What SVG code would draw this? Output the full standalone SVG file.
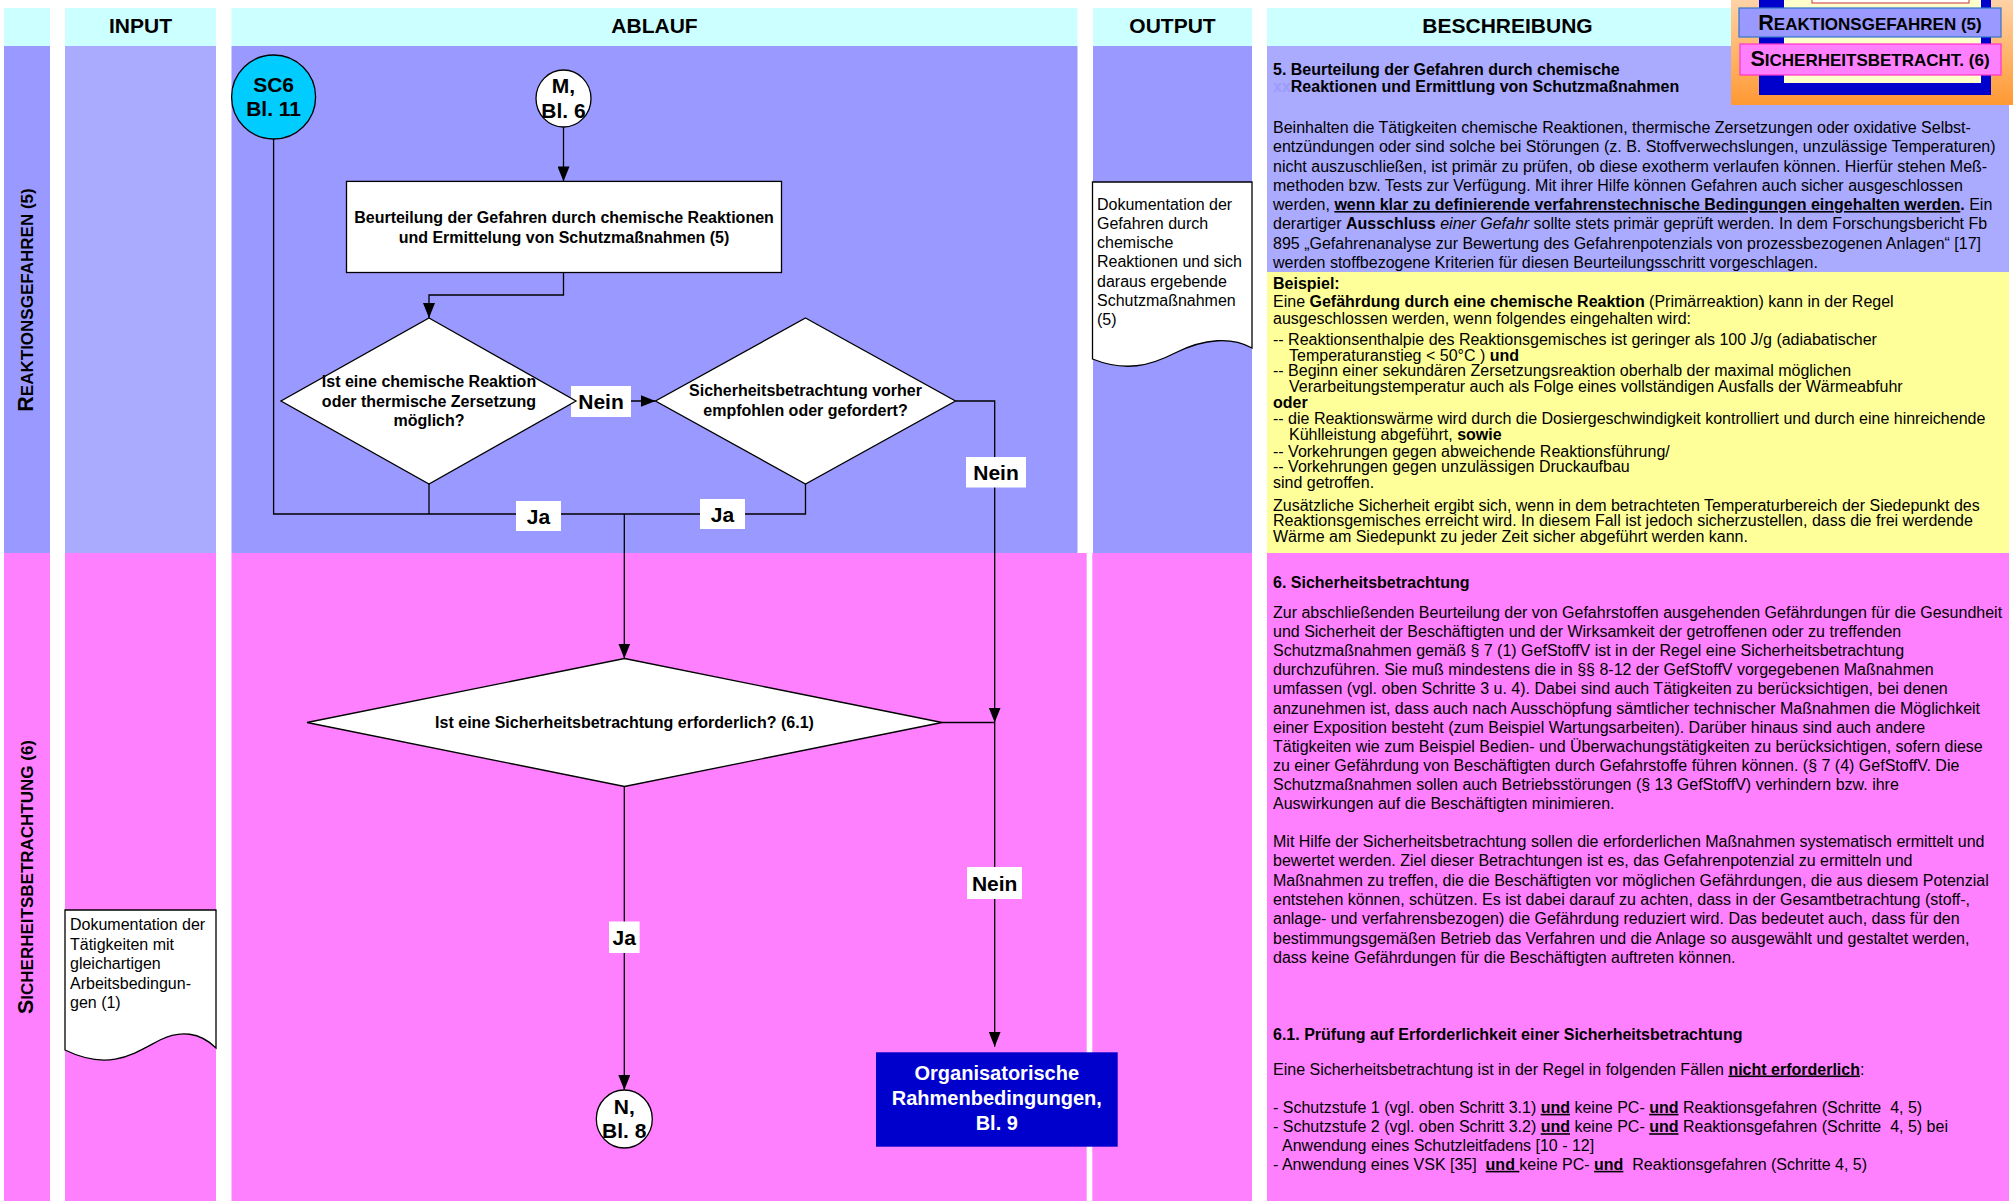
<svg xmlns="http://www.w3.org/2000/svg" width="2013" height="1201" viewBox="0 0 2013 1201">
<defs>
<style>
text{font-family:"Liberation Sans",Arial,sans-serif;fill:#000;}
.hd{font-size:21px;font-weight:bold;text-anchor:middle;}
.b16{font-size:16px;font-weight:bold;text-anchor:middle;}
.lbl{font-size:21px;font-weight:bold;text-anchor:middle;}
.con{font-size:21px;font-weight:bold;text-anchor:middle;}
.d{font-size:16px;}
.doc{font-size:16px;}
.b{font-weight:bold;}
.u{text-decoration:underline;}
.i{font-style:italic;}
.ln{fill:none;stroke:#000;stroke-width:1.3;}
.arr{marker-end:url(#ah);}
.shape{fill:#fff;stroke:#000;stroke-width:1.3;}
.lblbox{fill:#fff;}
.cyan{fill:#CCFFFF;}
.p1{fill:#9999FF;}
.p2{fill:#AAAAFF;}
.pk{fill:#FF80FF;}
.sc{font-weight:bold;font-size:17px;}
.scb{font-size:21.5px;}
</style>
<marker id="ah" viewBox="0 0 15 12" markerWidth="15" markerHeight="12" refX="15" refY="6" orient="auto" markerUnits="userSpaceOnUse">
<path d="M0,0 L15,6 L0,12 Z" fill="#000"/>
</marker>
<linearGradient id="og" x1="0" y1="0" x2="0" y2="1">
<stop offset="0" stop-color="#FFD2A6"/>
<stop offset="1" stop-color="#FF9933"/>
</linearGradient>
</defs>
<rect x="0" y="0" width="2013" height="1201" fill="#fff"/>

<g id="background">
<rect class="cyan" x="4" y="8" width="46" height="38"/>
<rect class="cyan" x="65" y="8" width="151" height="38"/>
<rect class="cyan" x="231.5" y="8" width="846" height="38"/>
<rect class="cyan" x="1093" y="8" width="159" height="38"/>
<rect class="cyan" x="1267" y="8" width="742" height="38"/>
<rect class="p1" x="4" y="46" width="46" height="507"/>
<rect class="p2" x="65" y="46" width="151" height="507"/>
<rect class="p1" x="231.5" y="46" width="846" height="507"/>
<rect class="p1" x="1093" y="46" width="159" height="507"/>
<rect class="p2" x="1267" y="46" width="742" height="226"/>
<rect x="1267" y="272" width="742" height="281" fill="#FFFF99"/>
<rect class="pk" x="4" y="553" width="46" height="648"/>
<rect class="pk" x="65" y="553" width="151" height="648"/>
<rect class="pk" x="231.5" y="553" width="855.2" height="648"/>
<rect class="pk" x="1092.3" y="553" width="159.7" height="648"/>
<rect class="pk" x="1267" y="553" width="742" height="648"/>
<text class="hd" x="140.5" y="33">INPUT</text>
<text class="hd" x="654.5" y="33">ABLAUF</text>
<text class="hd" x="1172.5" y="33">OUTPUT</text>
<text class="hd" x="1507.5" y="33">BESCHREIBUNG</text>
</g>

<g id="lane-reaktion">
<text class="sc" transform="translate(33,300) rotate(-90)" text-anchor="middle"><tspan class="scb">R</tspan>EAKTIONSGEFAHREN (5)</text>
</g>
<g id="lane-sicherheit">
<text class="sc" transform="translate(33,877) rotate(-90)" text-anchor="middle"><tspan class="scb">S</tspan>ICHERHEITSBETRACHTUNG (6)</text>
</g>

<g id="inset">
<rect x="1731" y="0" width="282" height="105" fill="url(#og)"/>
<rect x="1759" y="0" width="232" height="95" fill="#0000CC"/>
<rect x="1784" y="0" width="197" height="83" fill="#FFFFCC"/>
<rect x="1812" y="-4" width="157" height="7" fill="#fff" stroke="#CC3333" stroke-width="1"/>
<rect x="1739" y="8" width="262" height="29" fill="#9999FF" stroke="#3377CC" stroke-width="1.2"/>
<rect x="1740" y="44" width="261" height="31" fill="#FF80FF" stroke="#FF33CC" stroke-width="1.2"/>
<text class="sc" x="1870" y="30" text-anchor="middle"><tspan class="scb">R</tspan>EAKTIONSGEFAHREN (5)</text>
<text class="sc" x="1870" y="66" text-anchor="middle"><tspan class="scb">S</tspan>ICHERHEITSBETRACHT. (6)</text>
</g>

<g id="connectors">
<path class="ln arr" d="M563.5,127 V181.4"/>
<path class="ln arr" d="M563.5,272.5 V295 H429 V318"/>
<path class="ln arr" d="M574,401 H655.5"/>
<path class="ln" d="M429,484 V514"/>
<path class="ln" d="M273.6,139 V514 H805.5 V484"/>
<path class="ln arr" d="M624.3,514 V658.5"/>
<path class="ln arr" d="M955.5,401 H994.7 V722.5"/>
<path class="ln" d="M942,722.5 H994.7"/>
<path class="ln arr" d="M994.7,722.5 V1046.7"/>
<path class="ln arr" d="M624.3,786.5 V1090"/>
<rect class="lblbox" x="571" y="386" width="60" height="31"/>
<text class="lbl" x="601" y="409">Nein</text>
<rect class="lblbox" x="516" y="501" width="45" height="30"/>
<text class="lbl" x="538.5" y="523.5">Ja</text>
<rect class="lblbox" x="700" y="499" width="45" height="30"/>
<text class="lbl" x="722.5" y="521.5">Ja</text>
<rect class="lblbox" x="966" y="457" width="60" height="30.5"/>
<text class="lbl" x="996" y="480">Nein</text>
<rect class="lblbox" x="967" y="867" width="55" height="32"/>
<text class="lbl" x="994.7" y="890.5">Nein</text>
<rect class="lblbox" x="609" y="921.5" width="30.6" height="31.5"/>
<text class="lbl" x="624.3" y="944.5">Ja</text>
</g>

<g id="sc6">
<circle cx="273.6" cy="97" r="42" fill="#00CCFF" stroke="#000" stroke-width="1.3"/>
<text class="con" x="273.6" y="91.5">SC6</text>
<text class="con" x="273.6" y="115.5">Bl. 11</text>
</g>
<g id="m-bl6">
<ellipse class="shape" cx="563.5" cy="98.5" rx="27.5" ry="28.5"/>
<text class="con" x="563.5" y="93">M,</text>
<text class="con" x="563.5" y="118">Bl. 6</text>
</g>
<g id="beurteilung">
<rect class="shape" x="346.5" y="181.4" width="435" height="91.1"/>
<text class="b16" x="564" y="222.5">Beurteilung der Gefahren durch chemische Reaktionen</text>
<text class="b16" x="564" y="242.5">und Ermittelung von Schutzmaßnahmen (5)</text>
</g>
<g id="frage-reaktion">
<polygon class="shape" points="429,318 576,401 429,484 281,401"/>
<text class="b16" x="429" y="386.7">Ist eine chemische Reaktion</text>
<text class="b16" x="429" y="406.7">oder thermische Zersetzung</text>
<text class="b16" x="429" y="425.7">möglich?</text>
</g>
<g id="frage-vorher">
<polygon class="shape" points="805.5,318 955.5,401 805.5,484 655.5,401"/>
<text class="b16" x="805.5" y="395.7">Sicherheitsbetrachtung vorher</text>
<text class="b16" x="805.5" y="415.7">empfohlen oder gefordert?</text>
</g>
<g id="frage-erforderlich">
<polygon class="shape" points="624.5,658.5 942,722.5 624.5,786.5 307,722.5"/>
<text class="b16" x="624.5" y="728">Ist eine Sicherheitsbetrachtung erforderlich? (6.1)</text>
</g>
<g id="n-bl8">
<ellipse class="shape" cx="624.3" cy="1119" rx="28" ry="29"/>
<text class="con" x="624.3" y="1114">N,</text>
<text class="con" x="624.3" y="1138">Bl. 8</text>
</g>
<g id="organisatorisch">
<rect x="876" y="1052.3" width="241.7" height="94.4" fill="#0000CC"/>
<text class="b16" x="996.8" y="1080" style="font-size:20px;fill:#fff">Organisatorische</text>
<text class="b16" x="996.8" y="1104.5" style="font-size:20px;fill:#fff">Rahmenbedingungen,</text>
<text class="b16" x="996.8" y="1130" style="font-size:20px;fill:#fff">Bl. 9</text>
</g>
<g id="output-doc">
<path class="shape" d="M1092.5,182 H1252 V348 C1232,337 1205,338 1175,353 C1150,366 1125,372 1092.5,359 Z"/>
<text class="doc" x="1097" y="209.5">Dokumentation der</text>
<text class="doc" x="1097" y="228.8">Gefahren durch</text>
<text class="doc" x="1097" y="248">chemische</text>
<text class="doc" x="1097" y="267.3">Reaktionen und sich</text>
<text class="doc" x="1097" y="286.5">daraus ergebende</text>
<text class="doc" x="1097" y="305.8">Schutzmaßnahmen</text>
<text class="doc" x="1097" y="325">(5)</text>
</g>
<g id="input-doc">
<path class="shape" d="M65,910 H216 V1048 C200,1032 180,1030 160,1040 C135,1053 110,1072 65,1050 Z"/>
<text class="doc" x="70" y="930">Dokumentation der</text>
<text class="doc" x="70" y="949.5">Tätigkeiten mit</text>
<text class="doc" x="70" y="969">gleichartigen</text>
<text class="doc" x="70" y="988.5">Arbeitsbedingun-</text>
<text class="doc" x="70" y="1008">gen (1)</text>
</g>

<g id="beschreibung">
<text class="d b" x="1273" y="75">5. Beurteilung der Gefahren durch chemische</text>
<text class="d b" x="1273" y="91.5"><tspan fill="#9C9CFA">xx</tspan>Reaktionen und Ermittlung von Schutzmaßnahmen</text>
<text class="d" x="1273" y="133">Beinhalten die Tätigkeiten chemische Reaktionen, thermische Zersetzungen oder oxidative Selbst-</text>
<text class="d" x="1273" y="152.3">entzündungen oder sind solche bei Störungen (z. B. Stoffverwechslungen, unzulässige Temperaturen)</text>
<text class="d" x="1273" y="171.5">nicht auszuschließen, ist primär zu prüfen, ob diese exotherm verlaufen können. Hierfür stehen Meß-</text>
<text class="d" x="1273" y="190.7">methoden bzw. Tests zur Verfügung. Mit ihrer Hilfe können Gefahren auch sicher ausgeschlossen</text>
<text class="d" x="1273" y="210">werden, <tspan class="b u">wenn klar zu definierende verfahrenstechnische Bedingungen eingehalten werden</tspan><tspan class="b">.</tspan> Ein</text>
<text class="d" x="1273" y="229.2">derartiger <tspan class="b">Ausschluss</tspan> <tspan class="i">einer Gefahr</tspan> sollte stets primär geprüft werden. In dem Forschungsbericht Fb</text>
<text class="d" x="1273" y="248.5">895 „Gefahrenanalyse zur Bewertung des Gefahrenpotenzials von prozessbezogenen Anlagen“ [17]</text>
<text class="d" x="1273" y="267.7">werden stoffbezogene Kriterien für diesen Beurteilungsschritt vorgeschlagen.</text>

<text class="d b" x="1273" y="288.8">Beispiel:</text>
<text class="d" x="1273" y="307.2">Eine <tspan class="b">Gefährdung durch eine chemische Reaktion</tspan> (Primärreaktion) kann in der Regel</text>
<text class="d" x="1273" y="323.8">ausgeschlossen werden, wenn folgendes eingehalten wird:</text>
<text class="d" x="1273" y="344.5">-- Reaktionsenthalpie des Reaktionsgemisches ist geringer als 100 J/g (adiabatischer</text>
<text class="d" x="1289" y="360.5">Temperaturanstieg &lt; 50°C ) <tspan class="b">und</tspan></text>
<text class="d" x="1273" y="376.2">-- Beginn einer sekundären Zersetzungsreaktion oberhalb der maximal möglichen</text>
<text class="d" x="1289" y="392.2">Verarbeitungstemperatur auch als Folge eines vollständigen Ausfalls der Wärmeabfuhr</text>
<text class="d b" x="1273" y="408.2">oder</text>
<text class="d" x="1273" y="423.8">-- die Reaktionswärme wird durch die Dosiergeschwindigkeit kontrolliert und durch eine hinreichende</text>
<text class="d" x="1289" y="439.8">Kühlleistung abgeführt, <tspan class="b">sowie</tspan></text>
<text class="d" x="1273" y="456.5">-- Vorkehrungen gegen abweichende Reaktionsführung/</text>
<text class="d" x="1273" y="472.2">-- Vorkehrungen gegen unzulässigen Druckaufbau</text>
<text class="d" x="1273" y="487.8">sind getroffen.</text>
<text class="d" x="1273" y="510.5">Zusätzliche Sicherheit ergibt sich, wenn in dem betrachteten Temperaturbereich der Siedepunkt des</text>
<text class="d" x="1273" y="526.2">Reaktionsgemisches erreicht wird. In diesem Fall ist jedoch sicherzustellen, dass die frei werdende</text>
<text class="d" x="1273" y="542.2">Wärme am Siedepunkt zu jeder Zeit sicher abgeführt werden kann.</text>

<text class="d b" x="1273" y="588">6. Sicherheitsbetrachtung</text>
<text class="d" x="1273" y="618">Zur abschließenden Beurteilung der von Gefahrstoffen ausgehenden Gefährdungen für die Gesundheit</text>
<text class="d" x="1273" y="637.1">und Sicherheit der Beschäftigten und der Wirksamkeit der getroffenen oder zu treffenden</text>
<text class="d" x="1273" y="656.2">Schutzmaßnahmen gemäß § 7 (1) GefStoffV ist in der Regel eine Sicherheitsbetrachtung</text>
<text class="d" x="1273" y="675.3">durchzuführen. Sie muß mindestens die in §§ 8-12 der GefStoffV vorgegebenen Maßnahmen</text>
<text class="d" x="1273" y="694.4">umfassen (vgl. oben Schritte 3 u. 4). Dabei sind auch Tätigkeiten zu berücksichtigen, bei denen</text>
<text class="d" x="1273" y="713.5">anzunehmen ist, dass auch nach Ausschöpfung sämtlicher technischer Maßnahmen die Möglichkeit</text>
<text class="d" x="1273" y="732.6">einer Exposition besteht (zum Beispiel Wartungsarbeiten). Darüber hinaus sind auch andere</text>
<text class="d" x="1273" y="751.7">Tätigkeiten wie zum Beispiel Bedien- und Überwachungstätigkeiten zu berücksichtigen, sofern diese</text>
<text class="d" x="1273" y="770.8">zu einer Gefährdung von Beschäftigten durch Gefahrstoffe führen können. (§ 7 (4) GefStoffV. Die</text>
<text class="d" x="1273" y="789.9">Schutzmaßnahmen sollen auch Betriebsstörungen (§ 13 GefStoffV) verhindern bzw. ihre</text>
<text class="d" x="1273" y="809">Auswirkungen auf die Beschäftigten minimieren.</text>

<text class="d" x="1273" y="847">Mit Hilfe der Sicherheitsbetrachtung sollen die erforderlichen Maßnahmen systematisch ermittelt und</text>
<text class="d" x="1273" y="866.3">bewertet werden. Ziel dieser Betrachtungen ist es, das Gefahrenpotenzial zu ermitteln und</text>
<text class="d" x="1273" y="885.6">Maßnahmen zu treffen, die die Beschäftigten vor möglichen Gefährdungen, die aus diesem Potenzial</text>
<text class="d" x="1273" y="904.9">entstehen können, schützen. Es ist dabei darauf zu achten, dass in der Gesamtbetrachtung (stoff-,</text>
<text class="d" x="1273" y="924.2">anlage- und verfahrensbezogen) die Gefährdung reduziert wird. Das bedeutet auch, dass für den</text>
<text class="d" x="1273" y="943.5">bestimmungsgemäßen Betrieb das Verfahren und die Anlage so ausgewählt und gestaltet werden,</text>
<text class="d" x="1273" y="962.8">dass keine Gefährdungen für die Beschäftigten auftreten können.</text>

<text class="d b" x="1273" y="1039.5">6.1. Prüfung auf Erforderlichkeit einer Sicherheitsbetrachtung</text>
<text class="d" x="1273" y="1074.5">Eine Sicherheitsbetrachtung ist in der Regel in folgenden Fällen <tspan class="b u">nicht erforderlich</tspan>:</text>
<text class="d" x="1273" y="1112.8" xml:space="preserve">- Schutzstufe 1 (vgl. oben Schritt 3.1) <tspan class="b u">und</tspan> keine PC- <tspan class="b u">und</tspan> Reaktionsgefahren (Schritte  4, 5)</text>
<text class="d" x="1273" y="1132.2" xml:space="preserve">- Schutzstufe 2 (vgl. oben Schritt 3.2) <tspan class="b u">und</tspan> keine PC- <tspan class="b u">und</tspan> Reaktionsgefahren (Schritte  4, 5) bei</text>
<text class="d" x="1282" y="1151.2">Anwendung eines Schutzleitfadens [10 - 12]</text>
<text class="d" x="1273" y="1169.8" xml:space="preserve">- Anwendung eines VSK [35]  <tspan class="b u">und </tspan>keine PC- <tspan class="b u">und</tspan>  Reaktionsgefahren (Schritte 4, 5)</text>
</g>
</svg>
